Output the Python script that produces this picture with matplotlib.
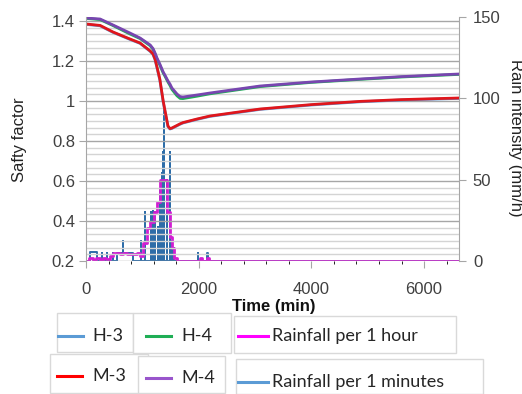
import matplotlib
matplotlib.use("Agg")
import matplotlib.pyplot as plt
from matplotlib.ticker import MultipleLocator, AutoMinorLocator
from matplotlib.patches import Rectangle
from matplotlib.lines import Line2D

plt.rcParams['font.family'] = ['Liberation Sans', 'DejaVu Sans']

# ---------------- data ----------------
t_fs = [0, 250, 480, 780, 960, 1140, 1190, 1225, 1260, 1310, 1370, 1400, 1455,
        1490, 1525, 1615, 1670, 1720, 1970, 2200, 3090, 4000, 4860, 5600, 6620]
m3 = [1.385, 1.378, 1.345, 1.31, 1.29, 1.25, 1.235, 1.21, 1.17, 1.11, 1.0, 0.955, 0.875,
      0.862, 0.865, 0.878, 0.886, 0.892, 0.91, 0.925, 0.96, 0.982, 0.998, 1.007, 1.015]
h3 = [1.383, 1.376, 1.343, 1.308, 1.288, 1.248, 1.232, 1.207, 1.166, 1.105, 0.995, 0.95, 0.872,
      0.86, 0.863, 0.876, 0.884, 0.89, 0.908, 0.923, 0.958, 0.98, 0.996, 1.005, 1.013]
m4 = [1.415, 1.41, 1.38, 1.34, 1.315, 1.28, 1.262, 1.24, 1.215, 1.185, 1.145, 1.13, 1.1,
      1.085, 1.065, 1.035, 1.022, 1.02, 1.03, 1.04, 1.075, 1.095, 1.11, 1.122, 1.135]
h4 = [1.413, 1.407, 1.377, 1.335, 1.312, 1.276, 1.258, 1.236, 1.21, 1.18, 1.14, 1.125, 1.095,
      1.078, 1.058, 1.026, 1.013, 1.012, 1.024, 1.036, 1.072, 1.093, 1.108, 1.12, 1.133]

# rainfall per 1 hour (step start time, mm/h)
rain_hr_t = [0, 60, 120, 180, 240, 300, 360, 420, 480, 540, 600, 660, 720, 780, 840, 900,
             960, 1020, 1080, 1140, 1200, 1260, 1320, 1380, 1440, 1490, 1530, 1570, 1620,
             2020, 2060, 2150, 2190, 6620]
rain_hr_v = [0, 2, 0.5, 2, 0.5, 2, 1, 3, 5, 5, 4.5, 5, 4.5, 4.5, 4, 5,
             3, 11, 20, 24, 30, 36, 50, 50, 30, 15, 8, 2, 0,
             2, 0, 2, 0, 0]

# rainfall per 1 minute (time, mm/h) step series
rain_min_t = [0, 70, 195, 280, 290, 365, 375, 475, 485, 550, 650, 660, 835,
              970, 980, 1040, 1050, 1150, 1160, 1185, 1195, 1220, 1230, 1275, 1285,
              1310, 1320, 1345, 1355, 1362, 1370, 1382, 1390, 1435, 1445,
              1485, 1495, 1520, 1530, 1555, 1565, 1985, 1995, 2155, 2165, 6620]
rain_min_v = [0, 5.5, 0, 5, 0, 5, 0, 5, 0, 5, 12, 5, 0,
              12, 0, 30, 0, 30, 0, 31, 0, 30, 0, 21, 0,
              44, 0, 54, 0, 67, 0, 97, 0, 50, 0,
              67, 0, 12, 0, 8, 0, 5, 0, 5, 0, 0]

x_ticks = [0, 2000, 4000, 6000]
left_ticks = [0.2, 0.4, 0.6, 0.8, 1.0, 1.2, 1.4]
left_labels = ["0.2", "0.4", "0.6", "0.8", "1", "1.2", "1.4"]
right_ticks = [0, 50, 100, 150]

# ---------------- figure ----------------
W, H = 522, 394
fig = plt.figure(figsize=(W / 100, H / 100), dpi=100)

def fx(x):
    return x / W

def fy(y):
    return 1 - y / H

ax = fig.add_axes([fx(86), fy(261), fx(459) - fx(86), fy(17) - fy(261)])
ax2 = ax.twinx()
ax.set_zorder(ax2.get_zorder() + 1)
ax.patch.set_visible(False)

c_h3 = '#5B9BD5'
c_h4 = '#1FAE55'
c_m3 = '#E0161C'
c_m4 = '#7846B0'
c_hr = '#D21ED2'
c_min = '#2E6DA8'

lw = 2.0
ax2.plot(rain_min_t, rain_min_v, drawstyle='steps-post', color=c_min, lw=1.4, zorder=2)
ax2.plot(rain_hr_t, rain_hr_v, drawstyle='steps-post', color=c_hr, lw=2.0, zorder=3)

ax.plot(t_fs, h3, color=c_h3, lw=lw)
ax.plot(t_fs, h4, color=c_h4, lw=lw)
ax.plot(t_fs, m3, color=c_m3, lw=lw)
ax.plot(t_fs, m4, color=c_m4, lw=lw)

ax.set_xlim(0, 6620)
ax.set_ylim(0.2, 1.42)
ax2.set_ylim(0, 150)

ax.set_axisbelow(True)
ax2.set_axisbelow(True)
ax2.xaxis.set_major_locator(MultipleLocator(2000))
ax2.xaxis.set_minor_locator(MultipleLocator(400))
ax2.grid(True, which='major', axis='x', color='#a6a6a6', lw=1.0)
ax2.grid(True, which='minor', axis='x', color='#c8c8c8', lw=1.0)
ax.set_yticks(left_ticks)
ax.set_yticklabels(left_labels)
ax.yaxis.set_minor_locator(AutoMinorLocator(6))
ax.grid(True, which='major', axis='y', color='#a6a6a6', lw=1.0, zorder=0)
ax.grid(True, which='minor', axis='y', color='#d4d4d4', lw=1.0, zorder=0)
ax.tick_params(axis='y', which='minor', length=0)

ax.set_xticks(x_ticks)
ax2.set_yticks(right_ticks)

for a in (ax, ax2):
    for s in ['top', 'bottom']:
        a.spines[s].set_visible(False)
    a.spines['left'].set_color('#a6a6a6')
    a.spines['right'].set_color('#a6a6a6')
ax.spines['right'].set_visible(False)
ax2.spines['left'].set_visible(False)

tc = '#404040'
ax.tick_params(axis='y', which='major', length=5, color='#a6a6a6', labelsize=12, labelcolor=tc, pad=3)
ax2.tick_params(axis='y', which='major', length=5, color='#a6a6a6', labelsize=12, labelcolor=tc, pad=5)
ax.tick_params(axis='x', which='major', length=5, color='#a6a6a6', labelsize=12, labelcolor=tc, pad=10)
ax2.tick_params(axis='x', which='minor', length=0)

fig.text(fx(20), fy(140), 'Safty factor', rotation=90, ha='center', va='center',
         fontsize=12, color='#222222')
fig.text(fx(515), fy(138), 'Rain intensity (mm/h)', rotation=-90, ha='center', va='center',
         fontsize=12, color='#222222')
fig.text(fx(274), fy(307), 'Time (min)', ha='center', va='center', fontsize=12,
         fontweight='bold', color='#111111')

# ---------------- legend boxes ----------------
leg_entries = [
    ('H-3', c_h3, (57, 313, 133, 352), (58, 83, 336), 92),
    ('H-4', c_h4, (133, 313, 231, 353), (146, 171, 336), 181),
    ('Rainfall per 1 hour', '#FF00FF', (234, 316, 456, 353), (238, 268, 336), 272),
    ('M-3', '#FF0000', (50, 354, 148, 393), (57, 82, 376), 92),
    ('M-4', '#9955CC', (138, 356, 225, 393), (146, 171, 378), 181),
    ('Rainfall per 1 minutes', c_h3, (236, 359, 483, 394), (238, 268, 382), 272),
]
for lab, col, box, ln, tx in leg_entries:
    x0, y0, x1, y1 = box
    fig.add_artist(Rectangle((fx(x0), fy(y1)), fx(x1) - fx(x0), fy(y0) - fy(y1),
                             transform=fig.transFigure, facecolor='white',
                             edgecolor='#d9d9d9', lw=1.0))
for lab, col, box, ln, tx in leg_entries:
    lx0, lx1, ly = ln
    fig.add_artist(Line2D([fx(lx0), fx(lx1)], [fy(ly), fy(ly)], transform=fig.transFigure,
                          color=col, lw=2.2))
    fig.text(fx(tx), fy(ly), lab, ha='left', va='center', fontsize=13,
             family=['Lato', 'DejaVu Sans'], color='#262626')

fig.savefig('out.png', dpi=100)
